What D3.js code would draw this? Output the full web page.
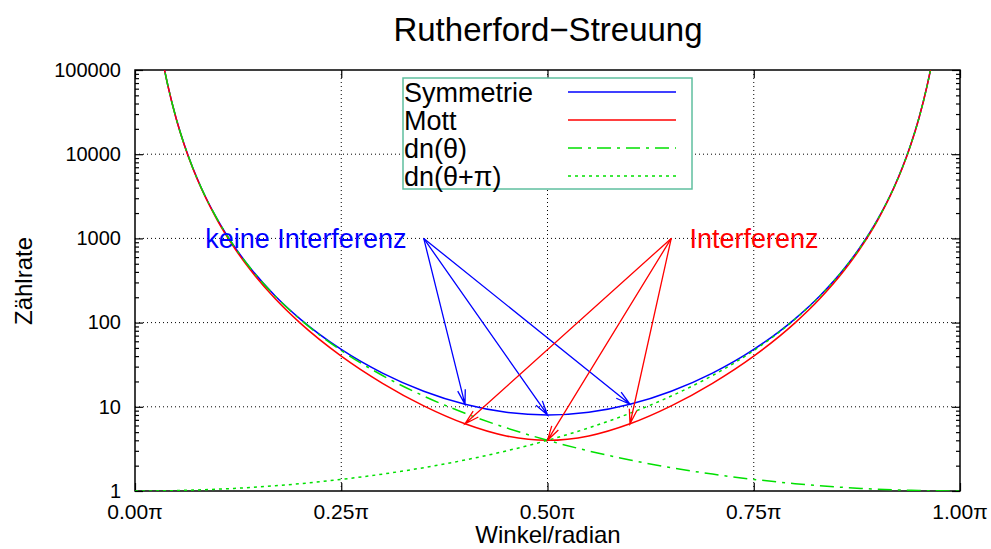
<!DOCTYPE html>
<html>
<head>
<meta charset="utf-8">
<script src="https://cdn.jsdelivr.net/npm/d3@7"></script>
<style>
  html, body { margin: 0; padding: 0; background: #fff; }
  svg { display: block; font-family: "Liberation Sans", Arial, Helvetica, sans-serif; }
</style>
</head>
<body>
<svg id="chart" width="991" height="549"></svg>
<script>
// ---------- data (angle in units of π) ----------
const theta = [0, 0.03, 0.035, 0.04, 0.05, 0.06, 0.07, 0.08, 0.10, 0.12, 0.14, 0.17, 0.20, 0.25, 0.30, 0.35, 0.40, 0.45, 0.50,
               0.55, 0.60, 0.65, 0.70, 0.75, 0.80, 0.83, 0.86, 0.88, 0.90, 0.92, 0.93, 0.94, 0.95, 0.96, 0.965, 0.97, 1.0];
const dnTheta = [null, 203100, 109700, 64330, 26390, 12750, 6896, 4053, 1670, 811.1, 441.6, 206.3, 109.7, 46.63, 23.54, 13.42, 8.378, 5.621, 4.000,
                 2.991, 2.334, 1.892, 1.587, 1.373, 1.222, 1.155, 1.102, 1.074, 1.051, 1.032, 1.025, 1.018, 1.012, 1.008, 1.006, 1.0045, 1.000];
const dnThetaPi = [1.000, 1.0045, 1.006, 1.008, 1.012, 1.018, 1.025, 1.032, 1.051, 1.074, 1.102, 1.155, 1.222, 1.373, 1.587, 1.892, 2.334, 2.991, 4.000,
                   5.621, 8.378, 13.42, 23.54, 46.63, 109.7, 206.3, 441.6, 811.1, 1670, 4053, 6896, 12750, 26390, 64330, 109700, 203100, null];
const symmetrie = [null, 203101, 109701, 64331, 26391, 12751, 6897, 4054, 1671, 812.2, 442.7, 207.5, 110.9, 48.00, 25.13, 15.31, 10.71, 8.612, 8.000,
                   8.612, 10.71, 15.31, 25.13, 48.00, 110.9, 207.5, 442.7, 812.2, 1671, 4054, 6897, 12751, 26391, 64331, 109701, 203101, null];
const mott = [null, 202650, 109370, 64076, 26228, 12637, 6813, 3989, 1629, 782.7, 420.6, 192.0, 99.31, 40.00, 19.02, 10.27, 6.290, 4.512, 4.000,
              4.512, 6.290, 10.27, 19.02, 40.00, 99.31, 192.0, 420.6, 782.7, 1629, 3989, 6813, 12637, 26228, 64076, 109370, 202650, null];

const seriesNames = ["Symmetrie", "Mott", "dn(\u03B8)", "dn(\u03B8+\u03C0)"];
const xTicks = [0, 0.25, 0.5, 0.75, 1.0];
const xTickLabels = ["0.00\u03C0", "0.25\u03C0", "0.50\u03C0", "0.75\u03C0", "1.00\u03C0"];
const yTicks = [1, 10, 100, 1000, 10000, 100000];
const yTickLabels = ["1", "10", "100", "1000", "10000", "100000"];

// arrows: [from angle, from value, to angle, to value]
const blueArrows = [[0.35, 1000, 0.40, 10.71], [0.35, 1000, 0.50, 8.000], [0.35, 1000, 0.60, 10.71]];
const redArrows  = [[0.65, 1000, 0.40, 6.290], [0.65, 1000, 0.50, 4.000], [0.65, 1000, 0.60, 6.290]];
const annotations = [
  { text: "keine Interferenz", x: 0.329, y: 1000, anchor: "end", color: "#0000ff" },
  { text: "Interferenz", x: 0.672, y: 1000, anchor: "start", color: "#ff0000" }
];

// ---------- layout ----------
const L = 135, R = 960, T = 70, B = 491;
const svg = d3.select("#chart");
const x = d3.scaleLinear().domain([0, 1]).range([L, R]);
const y = d3.scaleLog().domain([1, 100000]).range([B, T]);

// clip
svg.append("defs").append("clipPath").attr("id", "clip")
  .append("rect").attr("x", L).attr("y", T).attr("width", R - L).attr("height", B - T);

// grid
const grid = svg.append("g").attr("stroke", "#000").attr("stroke-width", 1).attr("stroke-dasharray", "1,3");
xTicks.slice(1, -1).forEach(v => {
  grid.append("line").attr("x1", x(v)).attr("x2", x(v)).attr("y1", T).attr("y2", B);
});
yTicks.slice(1, -1).forEach(v => {
  grid.append("line").attr("x1", L).attr("x2", R).attr("y1", y(v)).attr("y2", y(v));
});

// axes with inward ticks
const minor = y.ticks().filter(v => !yTicks.includes(v));
function yAxisDraw(axisFn, xpos) {
  svg.append("g").attr("transform", `translate(${xpos},0)`)
    .call(axisFn(y).tickValues(yTicks).tickFormat(() => "").tickSizeInner(axisFn === d3.axisLeft ? -8 : -8).tickSizeOuter(0))
    .call(g => g.select(".domain").remove())
    .selectAll("line").attr("stroke-width", 1.2);
  svg.append("g").attr("transform", `translate(${xpos},0)`)
    .call(axisFn(y).tickValues(minor).tickFormat(() => "").tickSizeInner(-4).tickSizeOuter(0))
    .call(g => g.select(".domain").remove())
    .selectAll("line").attr("stroke-width", 1.2);
}
yAxisDraw(d3.axisLeft, L);
yAxisDraw(d3.axisRight, R);
function xAxisDraw(axisFn, ypos) {
  svg.append("g").attr("transform", `translate(0,${ypos})`)
    .call(axisFn(x).tickValues(xTicks).tickFormat(() => "").tickSizeInner(-8).tickSizeOuter(0))
    .call(g => g.select(".domain").remove())
    .selectAll("line").attr("stroke-width", 1.2);
}
xAxisDraw(d3.axisBottom, B);
xAxisDraw(d3.axisTop, T);

// tick labels
svg.append("g").selectAll("text").data(yTicks).join("text")
  .attr("x", L - 14).attr("y", d => y(d)).attr("dy", "0.34em")
  .attr("text-anchor", "end").attr("font-size", 20)
  .text((d, i) => yTickLabels[i]);
svg.append("g").selectAll("text").data(xTicks).join("text")
  .attr("x", d => x(d)).attr("y", B + 28)
  .attr("text-anchor", "middle").attr("font-size", 21)
  .text((d, i) => xTickLabels[i]);

// frame
svg.append("rect").attr("x", L).attr("y", T).attr("width", R - L).attr("height", B - T)
  .attr("fill", "none").attr("stroke", "#000").attr("stroke-width", 1.5);

// curves
const pts = vals => theta.map((t, i) => [t, vals[i]]);
const line = d3.line()
  .defined(d => d[1] != null)
  .x(d => x(d[0])).y(d => y(d[1]))
  .curve(d3.curveMonotoneX);
const curves = svg.append("g").attr("clip-path", "url(#clip)").attr("fill", "none");
const styles = [
  { vals: symmetrie, color: "#0000ff", dash: null },
  { vals: mott, color: "#ff0000", dash: null },
  { vals: dnTheta, color: "#00e000", dash: "14,6,3,6" },
  { vals: dnThetaPi, color: "#00e000", dash: "3,4" }
];
styles.forEach(s => {
  curves.append("path").attr("d", line(pts(s.vals)))
    .attr("stroke", s.color).attr("stroke-width", 1.5)
    .attr("stroke-dasharray", s.dash);
});

// legend
const lg = svg.append("g");
lg.append("rect").attr("x", 403).attr("y", 78).attr("width", 289).attr("height", 111)
  .attr("fill", "#fff").attr("stroke", "#5fbf9f").attr("stroke-width", 1.5);
seriesNames.forEach((n, i) => {
  const cy = 92 + i * 28;
  lg.append("text").attr("x", 404).attr("y", cy).attr("dy", "0.36em")
    .attr("font-size", 27).text(n);
  lg.append("line").attr("x1", 568).attr("x2", 676).attr("y1", cy).attr("y2", cy)
    .attr("stroke", styles[i].color).attr("stroke-width", 1.5)
    .attr("stroke-dasharray", styles[i].dash);
});

// arrows
function drawArrow(a, color) {
  const x1 = x(a[0]), y1 = y(a[1]), x2 = x(a[2]), y2 = y(a[3]);
  const ang = Math.atan2(y2 - y1, x2 - x1);
  const hl = 15, ha = 15 * Math.PI / 180;
  const p1 = [x2 - hl * Math.cos(ang - ha), y2 - hl * Math.sin(ang - ha)];
  const p2 = [x2 - hl * Math.cos(ang + ha), y2 - hl * Math.sin(ang + ha)];
  svg.append("path")
    .attr("d", `M${x1},${y1}L${x2},${y2}M${p1[0]},${p1[1]}L${x2},${y2}L${p2[0]},${p2[1]}`)
    .attr("fill", "none").attr("stroke", color).attr("stroke-width", 1.3);
}
blueArrows.forEach(a => drawArrow(a, "#0000ff"));
redArrows.forEach(a => drawArrow(a, "#ff0000"));

annotations.forEach(a => {
  svg.append("text").attr("x", x(a.x)).attr("y", y(a.y)).attr("dy", "0.36em")
    .attr("text-anchor", a.anchor).attr("fill", a.color).attr("font-size", 27).text(a.text);
});

// titles
svg.append("text").attr("x", 548).attr("y", 41).attr("text-anchor", "middle")
  .attr("font-size", 33).text("Rutherford\u2212Streuung");
svg.append("text").attr("x", 548).attr("y", 543).attr("text-anchor", "middle")
  .attr("font-size", 24).text("Winkel/radian");
svg.append("text").attr("transform", "translate(32,281) rotate(-90)").attr("text-anchor", "middle")
  .attr("font-size", 24).text("Z\u00E4hlrate");
</script>
</body>
</html>
